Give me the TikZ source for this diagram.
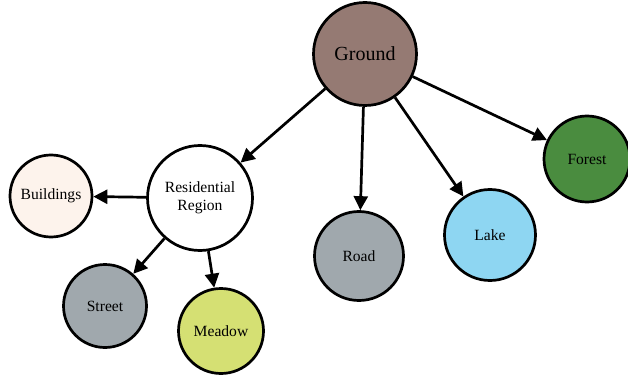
\documentclass[tikz,border=0pt]{standalone}
\usepackage{fontspec}
\setmainfont{Liberation Serif}
\usetikzlibrary{arrows.meta}
\definecolor{groundc}{HTML}{957A73}
\definecolor{bldgc}{HTML}{FDF3EC}
\definecolor{greyc}{HTML}{A0A8AD}
\definecolor{meadowc}{HTML}{D5E073}
\definecolor{lakec}{HTML}{8ED6F2}
\definecolor{forestc}{HTML}{4A8C3F}
\begin{document}
\begin{tikzpicture}[x=1pt,y=-1pt,
    region/.style={circle,draw=black,line width=2.7pt,inner sep=0pt,
      font=\fontsize{15.6}{18}\selectfont,align=center},
    link/.style={-{Triangle[length=14pt,width=14pt]},line width=2.7pt}]
      \useasboundingbox (0,0) rectangle (628,379);
      \node[region,fill=groundc,minimum size=103pt,font=\fontsize{20}{22}\selectfont] (ground) at (365,54) {Ground};
      \node[region,fill=white,minimum size=105pt] (res) at (200,198) {Residential\\Region};
      \node[region,fill=bldgc,minimum size=82pt] (bldg) at (51,196) {Buildings};
      \node[region,fill=greyc,minimum size=83pt] (street) at (105,306) {Street};
      \node[region,fill=meadowc,minimum size=85pt] (meadow) at (221,331) {Meadow};
      \node[region,fill=greyc,minimum size=89pt] (road) at (359,256) {Road};
      \node[region,fill=lakec,minimum size=91pt] (lake) at (490,235) {Lake};
      \node[region,fill=forestc,minimum size=86pt] (forest) at (587,159) {Forest};
      \draw[link] (ground)--(res);
      \draw[link] (ground)--(road);
      \draw[link] (ground)--(lake);
      \draw[link] (ground)--(forest);
      \draw[link] (res)--(bldg);
      \draw[link] (res)--(street);
      \draw[link] (res)--(meadow);
    \end{tikzpicture}
\end{document}
